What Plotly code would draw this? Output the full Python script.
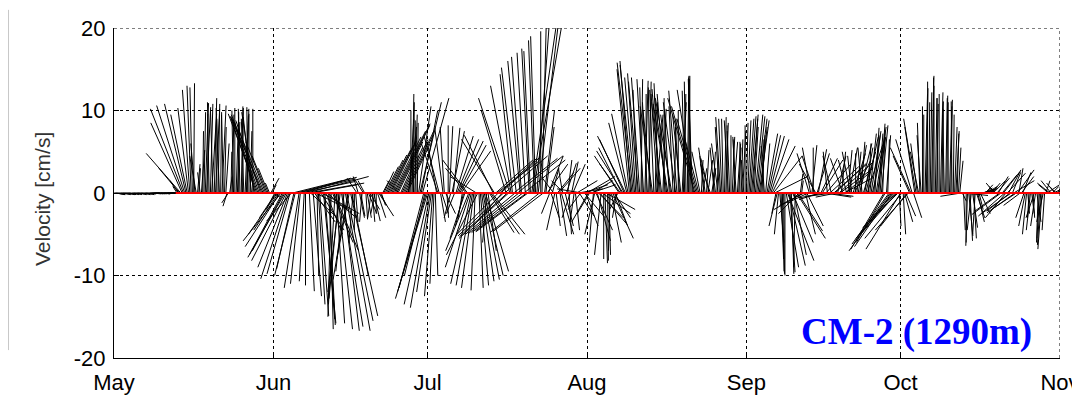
import numpy as np
import plotly.graph_objects as go

# ---------------- data ----------------
# current vectors (u east, v north) in cm/s, starting 1 May 00:00
# "a" records at 00h/12h, "b" records at 06h/18h
step_days = 0.5
may = [(0.9,-0.1),(1.0,-0.2),(0.8,-0.1),(1.1,-0.2),(0.9,-0.1),(1.0,-0.1),(0.8,-0.2),(1.0,-0.1),
       (0.9,-0.2),(1.1,-0.1),(0.8,-0.1),(1.0,-0.2),(0.9,-0.1),(1.0,-0.1),(1.2,0.0),(1.0,-0.1),
       (0.9,0.0),(1.1,-0.1),(1.0,0.0),(0.9,-0.1),(1.0,0.0),(1.1,0.0),(0.9,0.0),(1.0,0.0),
       (0.3,0.2),(-1.0,1.5),(-4.2,4.8),(-4.0,10.2),(-2.6,10.8),(-1.3,10.3),(-0.5,13.0),(0.1,13.3),
       (-0.8,4.5),(0.2,3.0),(0.4,5.2),(0.2,9.8),(0.5,10.4),(-0.2,11.0),(0.6,9.6),(0.3,11.5),
       (0.0,9.0),(-0.4,10.3),(0.5,10.6),(0.2,8.0),(-0.5,-1.6),(0.3,2.0),(0.2,9.5),(0.0,10.3),
       (0.3,8.6),(-0.2,10.2),(0.1,10.3),(0.4,9.4),(-0.1,10.4),(0.2,7.5),(0.0,10.2),(-2.5,8.6),
       (-3.6,9.6),(-3.0,8.8),(-3.9,9.2),(-2.4,6.2),(-1.2,3.0),(1.0,1.8)]
jun = [(0.8,-0.5),(-2.0,-3.0),(-3.0,-4.5),(-4.6,-5.8),(-3.8,-7.0),(-4.2,-8.2),(-3.4,-10.4),(-3.0,-3.4),
       (-2.1,-9.2),(7.3,1.9),(-1.8,-11.5),(6.5,1.4),(-0.6,-10.7),(7.5,2.0),(0.6,-11.9),(5.5,1.0),
       (2.5,-3.5),(0.2,-10.0),(1.1,-14.9),(4.5,-2.5),(1.2,-15.3),(3.5,-3.0),(0.4,-16.5),(2.5,-6.0),
       (-0.8,-13.5),(1.8,-16.5),(-1.5,-12.0),(2.0,-16.7),(3.0,-16.7),(-1.8,-10.5),(3.3,-14.9),(-0.5,-6.0),
       (0.3,-3.5),(-0.6,2.0),(0.5,-2.8),(-1.0,1.6),(0.2,-3.2),(1.0,-2.5),(-0.4,-3.0),(0.8,-3.4),
       (0.0,-2.5),(1.8,-2.8),(0.5,-1.5),(1.2,2.6),(2.0,4.0),(2.6,5.2),(3.0,6.3),(3.8,7.5),
       (4.0,8.2),(-1.5,1.5),(2.5,5.5),(3.5,7.4),(2.8,6.0),(0.5,9.0),(0.2,12.0),(0.3,9.5),
       (0.1,8.5),(2.6,11.0),(3.2,11.5),(-2.5,-10.0)]
jul = [(-3.9,-12.8),(-2.4,-13.9),(-1.0,-12.5),(0.3,-10.0),(-2.0,6.0),(0.6,-3.5),(-1.0,7.9),(1.2,-2.5),
       (0.0,8.2),(-0.8,-3.0),(0.8,7.9),(2.1,6.9),(3.0,6.3),(3.6,5.1),(-1.0,-4.0),(-2.5,3.0),
       (-2.8,-7.0),(-2.5,-11.0),(-1.5,-11.5),(-3.2,2.0),(0.5,-11.5),(1.5,-10.7),(2.3,-10.0),(-0.5,-6.0),
       (3.0,-4.8),(4.0,-5.0),(-4.0,6.5),(5.0,3.8),(4.5,4.2),(-3.5,-4.0),(5.2,4.5),(-5.8,-5.3),
       (-3.8,11.5),(-1.5,14.4),(-6.0,-5.0),(5.5,4.5),(-1.5,16.0),(-6.2,-4.8),(-1.0,17.0),(-6.3,-4.7),
       (-0.8,17.2),(3.6,21.0),(-0.6,19.0),(2.5,21.0),(0.0,19.6),(-6.0,-4.6),(1.0,8.0),(1.8,4.5),
       (1.0,-3.0),(-1.5,2.0),(0.5,-4.0),(2.6,3.0),(1.5,-5.0),(-1.5,1.5),(1.2,3.6),(0.3,-5.0),
       (0.8,3.8),(-0.5,-3.5),(2.5,1.5),(1.8,-2.8),(-3.0,0.5),(2.5,-3.0)]
aug = [(3.4,2.0),(-1.5,-2.5),(2.5,1.5),(-1.2,-5.0),(1.6,-5.8),(3.3,-3.8),(3.4,-2.5),(0.3,-8.5),
       (0.1,-8.2),(-0.2,-7.0),(2.5,-5.5),(1.5,-4.0),(-1.0,-2.0),(-2.5,3.5),(-3.2,5.1),(-3.4,6.9),
       (-2.0,9.6),(-1.3,16.0),(-1.6,15.5),(-1.0,14.5),(-1.2,13.5),(0.2,13.8),(-0.8,13.8),(0.0,12.0),
       (0.3,13.5),(-1.0,10.0),(-0.5,12.5),(0.8,9.5),(-0.6,13.3),(-1.2,11.0),(0.0,11.5),(-1.5,11.8),
       (-0.6,10.0),(-2.0,11.5),(0.2,9.0),(-1.0,12.4),(-0.5,8.0),(0.5,11.0),(-0.3,12.4),(0.2,14.2),
       (0.0,14.2),(-0.5,13.8),(-3.3,11.5),(-2.5,9.0),(-1.0,5.0),(0.5,3.0),(-0.8,5.5),(0.6,4.0),
       (-1.2,3.5),(0.3,5.0),(-0.3,2.5),(-0.8,6.0),(-0.6,9.2),(-0.2,9.0),(0.3,8.5),(-0.5,8.8),
       (0.0,7.0),(0.5,6.2),(-0.4,6.8),(0.3,5.5),(0.2,6.5),(-0.3,4.0)]
sep = [(0.2,8.5),(0.6,9.0),(0.8,9.5),(0.5,8.0),(1.0,9.3),(1.2,8.8),(0.4,7.0),(-0.4,5.7),
       (1.3,7.2),(1.8,6.9),(2.8,5.7),(4.0,2.0),(-1.0,-4.0),(0.5,-6.0),(0.2,-9.5),(0.0,-10.0),
       (3.2,-8.2),(0.6,-9.6),(2.5,-6.0),(-0.2,-9.0),(3.0,-4.6),(0.3,2.3),(-3.5,-2.0),(1.2,-5.0),
       (-2.5,-1.2),(-1.0,5.5),(0.0,5.5),(-2.0,3.5),(1.0,5.3),(2.0,4.2),(-3.0,-0.6),(3.0,3.5),
       (3.0,-0.4),(-1.0,4.5),(4.0,3.5),(-2.5,-0.5),(4.2,3.8),(0.5,5.0),(3.6,1.9),(-1.0,4.0),
       (1.0,5.5),(-0.5,4.5),(2.0,4.0),(0.5,5.0),(1.5,6.0),(-0.5,5.5),(1.0,5.5),(2.0,6.2),
       (0.8,7.2),(1.5,6.5),(0.5,7.9),(1.0,6.8),(0.6,8.4),(0.3,7.5),(-3.5,-6.0),(0.2,6.5),
       (-5.0,-7.0),(-4.0,-5.0),(-4.8,-5.5),(-3.5,-3.5)]
oct_ = [(-4.2,-6.8),(0.3,-5.0),(1.2,-2.8),(-4.0,-4.5),(-2.5,5.5),(1.0,-3.0),(-1.5,9.0),(-1.0,5.0),
        (-0.5,7.0),(0.0,9.5),(0.2,12.7),(0.1,11.0),(0.3,14.2),(0.0,13.0),(0.2,10.8),(0.0,12.0),
        (0.2,11.1),(-0.2,9.5),(0.1,11.8),(0.3,10.5),(-0.1,11.1),(0.3,8.0),(0.2,7.2),(0.4,3.9),
        (0.5,-1.0),(2.8,-0.3),(-0.2,-6.4),(0.3,-5.8),(0.6,-4.2),(-0.3,-5.0),(0.8,-3.5),(1.2,-2.5),
        (1.5,0.5),(0.9,1.0),(1.2,0.6),(0.5,0.3),(1.5,1.5),(-0.8,0.8),(1.2,2.0),(-3.5,-2.6),
        (2.0,2.6),(-2.5,-3.0),(1.5,2.8),(-3.6,-2.5),(2.5,1.5),(-3.0,-2.0),(0.5,3.0),(1.5,2.0),
        (-1.0,-3.0),(-0.5,-5.0),(-0.2,-3.0),(0.3,-2.5),(-1.0,-3.0),(0.5,-3.5),(-0.3,-5.5),(-0.5,-6.8),
        (-0.3,-4.5),(1.5,1.0),(-1.5,1.2),(0.8,0.8),(-1.0,1.2),(0.3,0.5)]

may_b = [(1.0,-0.1),(0.9,-0.2),(1.0,-0.1),(0.9,-0.1),(1.1,-0.2),(0.8,-0.1),(1.0,-0.2),(0.9,-0.1),
         (1.0,-0.1),(1.0,-0.2),(0.9,-0.1),(1.1,-0.1),(1.0,-0.2),(0.9,-0.1),(1.0,0.0),(1.1,-0.1),
         (1.0,-0.1),(0.9,0.0),(1.0,-0.1),(1.1,0.0),(0.9,0.0),(1.0,0.0),(1.0,0.0),(0.8,0.0),
         (-0.5,0.8),(-2.5,3.0),(-3.8,8.5),(-3.4,10.6),(-2.0,9.5),(-0.9,12.5),(-0.3,12.8),(-0.5,6.0),
         (0.3,3.5),(-0.3,2.5),(0.1,7.5),(0.4,10.9),(0.0,9.6),(0.3,10.8),(-0.3,10.0),(0.5,10.2),
         (0.2,10.8),(0.1,9.5),(-0.2,9.8),(0.4,6.0),(-0.8,-1.2),(0.1,5.0),(-0.2,10.0),(0.3,9.2),
         (0.0,9.8),(0.2,10.5),(-0.3,9.0),(0.3,10.2),(0.0,9.6),(-1.0,9.2),(-1.5,9.8),(-3.2,9.3),
         (-3.3,9.0),(-3.7,9.5),(-3.2,7.8),(-1.8,4.5),(-0.5,1.2),(0.5,1.0)]
jun_b = [(-1.0,-2.0),(-3.5,-5.0),(-4.2,-6.5),(-4.0,-7.5),(-4.5,-7.8),(-3.6,-9.0),(-2.8,-9.8),(6.0,1.5),
         (-2.5,-10.0),(7.0,1.7),(-1.2,-11.0),(5.8,1.8),(0.0,-11.2),(6.8,1.2),(3.0,-2.8),(1.0,-12.5),
         (4.0,-2.0),(0.8,-13.5),(2.8,-4.5),(1.5,-15.8),(2.0,-5.0),(0.8,-16.0),(-0.4,-15.0),(3.0,-7.0),
         (1.0,-15.8),(-1.2,-12.8),(2.6,-16.2),(-1.0,-9.5),(3.2,-15.5),(-1.5,-8.0),(2.0,-10.0),(0.0,-4.5),
         (-1.2,1.8),(0.6,-3.0),(-0.3,-3.5),(-0.8,1.5),(0.5,-3.0),(1.2,-2.0),(0.3,-3.5),(-0.5,-2.5),
         (1.0,-3.0),(0.8,-1.5),(0.8,1.5),(1.6,3.2),(2.3,4.6),(2.8,5.8),(3.4,6.8),(4.2,8.4),
         (3.0,6.2),(2.0,4.5),(3.0,6.5),(3.2,6.8),(1.0,8.0),(0.0,10.0),(0.1,11.0),(-0.1,8.8),
         (1.5,10.5),(2.0,10.0),(-3.0,-11.5),(-3.5,-12.0)]
jul_b = [(-3.0,-13.5),(-1.8,-12.0),(-0.5,-11.0),(-1.0,5.5),(-1.8,6.8),(0.8,-2.5),(-0.5,8.0),(0.2,-3.0),
         (0.4,8.1),(1.5,7.5),(-1.0,-2.5),(2.6,6.5),(3.2,5.8),(-0.5,-3.0),(-1.8,-5.5),(-3.0,4.0),
         (-3.0,-9.0),(-2.0,-11.2),(-0.5,-11.8),(-3.8,-7.5),(1.0,-11.2),(2.0,-10.5),(2.8,-9.5),(1.0,-7.0),
         (3.5,-5.0),(-3.5,7.0),(4.5,4.0),(-5.0,-5.0),(4.8,4.4),(-5.5,-5.2),(-3.0,10.0),(-6.0,-5.5),
         (-2.5,13.0),(5.3,4.2),(-1.8,15.2),(-6.1,-4.9),(-1.2,16.5),(5.0,4.0),(-6.2,-4.6),(-0.9,17.5),
         (3.0,20.5),(-0.7,18.5),(1.5,20.5),(-6.0,-4.8),(0.5,20.0),(1.2,10.0),(2.5,3.5),(-1.0,-2.5),
         (0.8,3.0),(-1.0,-4.5),(2.0,2.5),(0.8,-5.2),(-0.5,3.0),(1.0,-4.0),(0.5,4.0),(-1.0,-3.0),
         (1.5,3.5),(0.5,-4.5),(3.0,0.5),(-1.5,-2.0),(3.0,1.0),(1.5,-4.0)]
aug_b = [(-2.0,-3.5),(3.0,1.0),(-0.5,-6.0),(2.0,-4.5),(3.0,-3.0),(-0.8,-7.5),(0.0,-8.0),(3.5,-2.0),
         (0.2,-7.5),(1.2,-6.0),(2.0,-3.0),(-0.5,-3.0),(-3.0,4.5),(-2.8,5.5),(-3.0,6.5),(-2.2,8.5),
         (-1.5,15.0),(-1.8,15.8),(-1.2,14.0),(-0.5,12.5),(-1.0,14.0),(-0.3,12.8),(0.4,13.6),(-0.6,11.0),
         (-0.2,12.8),(-1.5,10.5),(0.3,11.0),(-0.8,12.0),(-1.0,12.6),(0.4,10.2),(-1.0,12.0),(-1.8,10.8),
         (-1.2,9.5),(-0.5,10.5),(-1.5,11.0),(0.0,10.0),(-1.0,9.5),(0.3,12.0),(-0.2,13.5),(0.1,13.8),
         (-0.3,14.0),(-2.0,12.5),(-3.0,10.5),(-1.8,7.0),(0.2,4.0),(-0.5,4.5),(0.3,5.2),(-1.0,4.2),
         (0.5,3.0),(-0.5,5.5),(0.2,4.0),(-0.5,8.0),(-0.4,9.0),(0.2,9.2),(0.0,8.2),(-0.3,7.5),
         (0.3,6.8),(-0.2,6.5),(0.4,6.0),(0.0,6.2),(0.4,7.5),(0.0,8.2)]
sep_b = [(0.4,8.8),(0.7,9.3),(0.6,9.0),(0.9,9.5),(1.1,9.0),(0.8,8.0),(0.0,6.5),(0.5,6.0),
         (1.5,7.0),(2.2,6.5),(3.5,4.5),(-0.5,-2.5),(-0.5,-5.0),(0.3,-8.0),(0.1,-9.8),(1.5,-9.0),
         (2.0,-8.8),(0.3,-9.8),(1.5,-7.5),(3.5,-5.5),(-2.5,-2.5),(0.2,1.5),(-3.0,-1.5),(2.0,-4.0),
         (-1.5,4.8),(0.6,5.8),(-1.5,4.5),(1.5,4.8),(-2.5,-0.8),(2.5,4.0),(3.2,-0.5),(-0.5,5.0),
         (3.5,3.2),(-3.0,-0.4),(3.8,3.6),(1.0,4.5),(4.0,3.0),(-1.5,4.2),(3.0,2.5),(0.5,5.2),
         (-1.0,5.0),(1.5,4.8),(0.0,4.8),(1.0,5.8),(0.5,6.2),(1.5,5.0),(1.5,6.8),(0.3,6.0),
         (1.2,7.5),(0.8,7.0),(1.2,8.0),(0.5,7.2),(0.8,8.2),(-4.0,-6.8),(0.5,7.0),(-4.5,-6.2),
         (-4.5,-6.5),(-3.8,-4.2),(-4.2,-4.8),(0.2,-4.0)]
oct_b = [(-4.5,-5.5),(1.0,-3.5),(-3.2,-4.0),(-2.0,4.5),(-2.0,6.5),(-1.2,8.0),(-0.8,6.0),(-0.3,8.5),
         (0.0,10.5),(0.3,12.0),(0.0,13.5),(0.2,12.2),(0.1,14.0),(0.2,11.5),(-0.1,11.5),(0.3,12.2),
         (0.0,10.2),(0.2,11.5),(0.0,11.0),(0.2,11.3),(0.1,9.5),(0.4,7.5),(0.3,5.5),(-2.5,-0.4),
         (0.2,-4.5),(0.0,-6.0),(0.5,-5.2),(-0.5,-4.5),(0.3,-5.5),(1.0,-3.0),(0.5,-2.0),(1.5,0.3),
         (1.0,0.6),(1.3,0.8),(0.8,0.5),(1.0,1.2),(-1.0,1.2),(1.5,1.8),(-3.0,-2.2),(1.8,2.2),
         (-3.2,-2.8),(2.2,2.4),(-2.8,-2.2),(1.0,2.5),(-3.4,-2.4),(2.0,2.8),(-2.0,-1.5),(1.0,2.5),
         (-0.8,-4.0),(0.2,-2.5),(-0.5,-4.5),(0.2,-3.0),(-0.6,-4.0),(-0.2,-6.0),(-0.4,-6.3),(-0.8,-3.5),
         (0.5,1.5),(-1.2,1.0),(-1.2,1.5),(1.0,0.5),(-0.8,0.8),(0.5,1.0)]
valid_start_index = 24          # first record of the deployed series (red zero line)

month_labels = ["May", "Jun", "Jul", "Aug", "Sep", "Oct", "Nov"]
month_days = [31, 30, 31, 31, 30, 31]
y_ticks = [-20, -10, 0, 10, 20]
title_text = "CM-2 (1290m)"
y_title = "Velocity [cm/s]"

# ---------------- layout constants ----------------
# the page body has an 8 px margin, so the figure is 1072x393 placed at (8, 8)
W, H = 1072, 393
ML, MR, MT, MB = 106, 20, 20, 43
month_starts = np.concatenate([[0], np.cumsum(month_days)]).astype(float)
xmin, xmax = month_starts[0], month_starts[-1]
ymin, ymax = -20, 20

vec_a = np.array(may + jun + jul + aug + sep + oct_, dtype=float)
vec_b = np.array(may_b + jun_b + jul_b + aug_b + sep_b + oct_b, dtype=float)
t_a = np.arange(len(vec_a)) * step_days
t_b = np.arange(len(vec_b)) * step_days + step_days / 2
t = np.concatenate([t_a, t_b])
u = np.concatenate([vec_a[:, 0], vec_b[:, 0]])
v = np.concatenate([vec_a[:, 1], vec_b[:, 1]])

# stick plot: keep aspect so 1 cm/s on x equals 1 cm/s on y in pixels
px_per_day = (W - ML - MR) / (xmax - xmin)
px_per_cms = (H - MT - MB) / (ymax - ymin)
k = px_per_cms / px_per_day

xs, ys = [], []
for ti, ui, vi in zip(t, u, v):
    xs += [ti, ti + ui * k, None]
    ys += [0, vi, None]

fig = go.Figure()
fig.add_trace(go.Scatter(x=xs, y=ys, mode="lines",
                         line=dict(color="black", width=1), hoverinfo="skip", showlegend=False))
fig.add_trace(go.Scatter(x=[t_a[valid_start_index], t_a[-1] + step_days], y=[0, 0], mode="lines",
                         line=dict(color="red", width=2), hoverinfo="skip", showlegend=False))

tickfont = dict(family="Liberation Sans, Arial, sans-serif", size=22, color="black")
fig.update_layout(
    width=W, height=H, margin=dict(l=ML, r=MR, t=MT, b=MB, autoexpand=False),
    paper_bgcolor="white", plot_bgcolor="white",
    xaxis=dict(range=[xmin, xmax], tickvals=month_starts, ticktext=month_labels,
               showgrid=True, gridcolor="black", gridwidth=1, griddash="3px,3px",
               showline=True, linecolor="black", linewidth=1, zeroline=False, automargin=False,
               ticks="inside", ticklen=5, tickcolor="black", tickfont=tickfont,
               ticklabelstandoff=5),
    yaxis=dict(range=[ymin, ymax], tickvals=y_ticks, ticktext=[str(y) for y in y_ticks],
               showgrid=True, gridcolor="black", gridwidth=1, griddash="3px,3px",
               showline=True, linecolor="black", linewidth=1, zeroline=False, automargin=False,
               ticks="inside", ticklen=5, tickcolor="black", tickfont=tickfont,
               ticklabelstandoff=3),
    shapes=[
        dict(type="line", xref="x", yref="y", x0=xmin, x1=xmax, y0=ymax, y1=ymax,
             line=dict(color="black", width=1, dash="3px,3px")),
        dict(type="line", xref="x", yref="y", x0=xmax, x1=xmax, y0=ymin, y1=ymax,
             line=dict(color="black", width=1, dash="3px,3px")),
        dict(type="line", xref="paper", yref="paper", x0=-0.1115, x1=-0.1115, y0=0.024, y1=1.055,
             line=dict(color="#c8c8c8", width=1)),
    ],
    annotations=[
        dict(text="<b>" + title_text + "</b>", xref="paper", yref="paper", x=0.848, y=0.079,
             xanchor="center", yanchor="middle", showarrow=False,
             font=dict(family="Liberation Serif, Times New Roman, serif", size=37, color="#0000ff")),
        dict(text=y_title, xref="paper", yref="paper", x=-0.075, y=0.482, textangle=-90,
             xanchor="center", yanchor="middle", showarrow=False,
             font=dict(family="Liberation Sans, Arial, sans-serif", size=21, color="#333333")),
    ],
)
fig.write_html("out.html")
